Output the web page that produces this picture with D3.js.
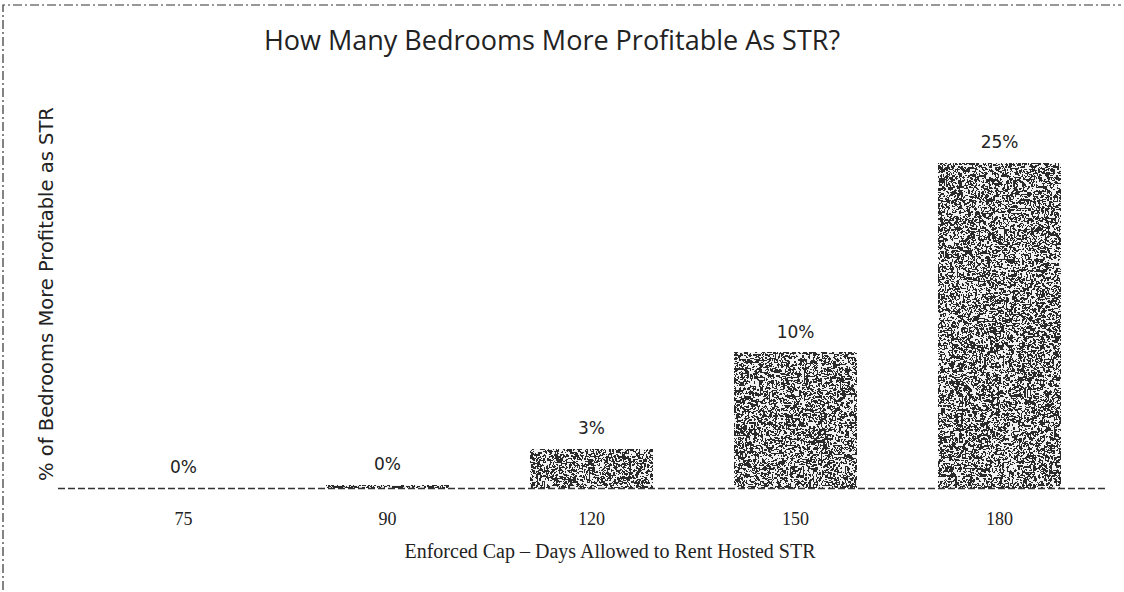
<!DOCTYPE html>
<html>
<head>
<meta charset="utf-8">
<script src="https://cdn.jsdelivr.net/npm/d3@7"></script>
<style>
  body { margin: 0; background: #fff; }
  svg { display: block; }
</style>
</head>
<body>
<div id="chart"></div>
<script>
  // Data
  var caps = ["75", "90", "120", "150", "180"];
  var shares = [0, 0.002, 0.03, 0.104, 0.25];
  var labels = ["0%", "0%", "3%", "10%", "25%"];

  var width = 1124, height = 592;

  var svg = d3.select("#chart").append("svg")
      .attr("width", width)
      .attr("height", height);

  // speckled fill like the photocopied bars
  var defs = svg.append("defs");
  var f = defs.append("filter").attr("id", "speckle")
      .attr("x", 0).attr("y", 0).attr("width", 1).attr("height", 1);
  f.append("feTurbulence").attr("type", "fractalNoise")
      .attr("baseFrequency", 0.22).attr("numOctaves", 2).attr("seed", 3)
      .attr("result", "noise");
  f.append("feColorMatrix").attr("in", "noise").attr("type", "luminanceToAlpha").attr("result", "a");
  f.append("feComponentTransfer").attr("in", "a").attr("result", "bw")
    .append("feFuncA").attr("type", "discrete").attr("tableValues", "0 1 0 1 0 1 0 1");
  f.append("feFlood").attr("flood-color", "#2a2a2a").attr("result", "ink");
  f.append("feComposite").attr("in", "ink").attr("in2", "bw").attr("operator", "in").attr("result", "dots");
  f.append("feFlood").attr("flood-color", "#f2f2f2").attr("result", "paper");
  f.append("feMerge").call(function(m) {
    m.append("feMergeNode").attr("in", "paper");
    m.append("feMergeNode").attr("in", "dots");
  });

  var x = d3.scaleBand().domain(caps).range([61, 1122]).paddingInner(0.4).paddingOuter(0.3);
  var y = d3.scaleLinear().domain([0, 0.3]).range([488, 98]);

  // scanned border
  svg.append("path")
      .attr("d", "M3,590 V5 H1121")
      .attr("fill", "none").attr("stroke", "#333").attr("stroke-width", 1.2)
      .attr("stroke-dasharray", "9 3 2 3");

  // title
  svg.append("text")
      .attr("x", 552).attr("y", 50)
      .attr("text-anchor", "middle")
      .attr("font-family", "Open Sans, sans-serif")
      .attr("font-size", 27)
      .attr("fill", "#222")
      .text("How Many Bedrooms More Profitable As STR?");

  // bars
  svg.selectAll("rect.bar")
      .data(caps)
      .enter().append("rect")
      .attr("class", "bar")
      .attr("x", function(d) { return x(d); })
      .attr("width", x.bandwidth())
      .attr("y", function(d, i) { return y(shares[i]); })
      .attr("height", function(d, i) { return y(0) - y(shares[i]); })
      .attr("filter", "url(#speckle)");

  // value labels
  svg.selectAll("text.val")
      .data(caps)
      .enter().append("text")
      .attr("class", "val")
      .attr("x", function(d) { return x(d) + x.bandwidth() / 2; })
      .attr("y", function(d, i) { return y(shares[i]) - 15; })
      .attr("text-anchor", "middle")
      .attr("font-family", "DejaVu Sans, sans-serif")
      .attr("font-size", 17)
      .attr("fill", "#222")
      .text(function(d, i) { return labels[i]; });

  // x axis
  var xAxis = svg.append("g")
      .attr("transform", "translate(0," + y(0) + ")")
      .call(d3.axisBottom(x).tickSize(0).tickPadding(24));
  xAxis.select(".domain")
      .attr("d", "M58,0.5H1105")
      .attr("stroke", "#333").attr("stroke-width", 1.5)
      .attr("stroke-dasharray", "7 3");
  xAxis.selectAll("text")
      .attr("font-family", "Liberation Serif, serif")
      .attr("font-size", 18)
      .attr("fill", "#222");

  // axis titles
  svg.append("text")
      .attr("x", 610).attr("y", 558)
      .attr("text-anchor", "middle")
      .attr("font-family", "Liberation Serif, serif")
      .attr("font-size", 20)
      .attr("fill", "#222")
      .text("Enforced Cap \u2013 Days Allowed to Rent Hosted STR");

  svg.append("text")
      .attr("transform", "translate(53,294) rotate(-90)")
      .attr("text-anchor", "middle")
      .attr("font-family", "DejaVu Sans, sans-serif")
      .attr("font-size", 19.5)
      .attr("fill", "#222")
      .text("% of Bedrooms More Profitable as STR");
</script>
</body>
</html>
